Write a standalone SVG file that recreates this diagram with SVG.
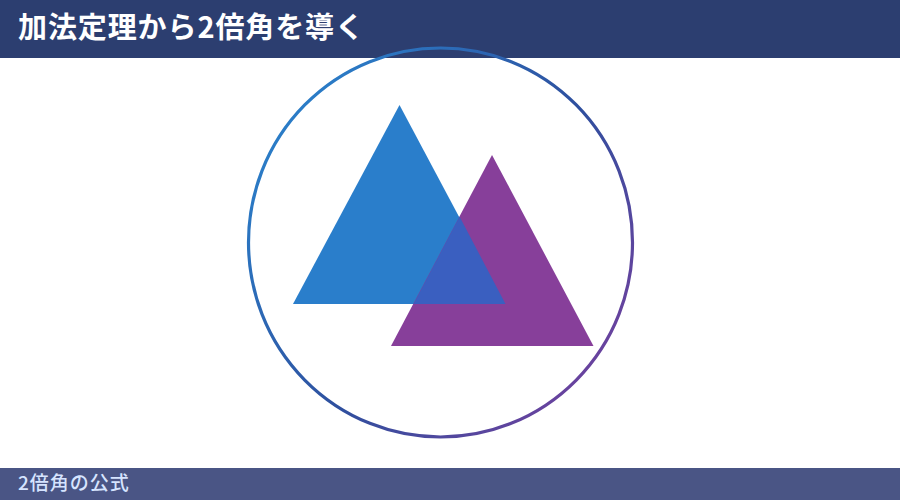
<svg xmlns="http://www.w3.org/2000/svg" width="900" height="500" viewBox="0 0 900 500">
  <defs>
    <linearGradient id="ring" x1="0" y1="0.2" x2="1" y2="1">
      <stop offset="0" stop-color="#2a82cc"/>
      <stop offset="0.5" stop-color="#2e4f9e"/>
      <stop offset="1" stop-color="#823d9e"/>
    </linearGradient>
  </defs>
  <style>
    .jp { font-family: "Noto Sans CJK JP", "Noto Sans", sans-serif; }
    .title { font-size: 29px; font-weight: 700; fill: #ffffff; letter-spacing: 0.9px; }
    .foot { font-size: 19px; font-weight: 500; fill: #d6e4ff; letter-spacing: 1px; }
  </style>
  <rect width="900" height="500" fill="#ffffff"/>
  <g id="header">
    <rect x="0" y="0" width="900" height="58" fill="#2c3e70"/>
    <text class="jp title" x="18" y="38">加法定理から2倍角を導く</text>
  </g>
  <g id="footer">
    <rect x="0" y="468" width="900" height="32" fill="#4a5585"/>
    <text class="jp foot" x="18" y="490">2倍角の公式</text>
  </g>
  <g id="ring-node">
    <ellipse cx="440.5" cy="242.5" rx="192" ry="194.5" fill="none" stroke="url(#ring)" stroke-width="3.2"/>
  </g>
  <g id="triangle-blue">
    <polygon points="399.5,105 293,304 505.5,304" fill="#2a7ecb"/>
  </g>
  <g id="triangle-purple">
    <polygon points="492,155 391,346 593.5,346" fill="#873f9a"/>
  </g>
  <g id="overlap">
    <polygon points="459.5,216.5 413.5,304 505.5,304" fill="#3a5fc0"/>
  </g>
  <g id="connectors"></g>
</svg>
